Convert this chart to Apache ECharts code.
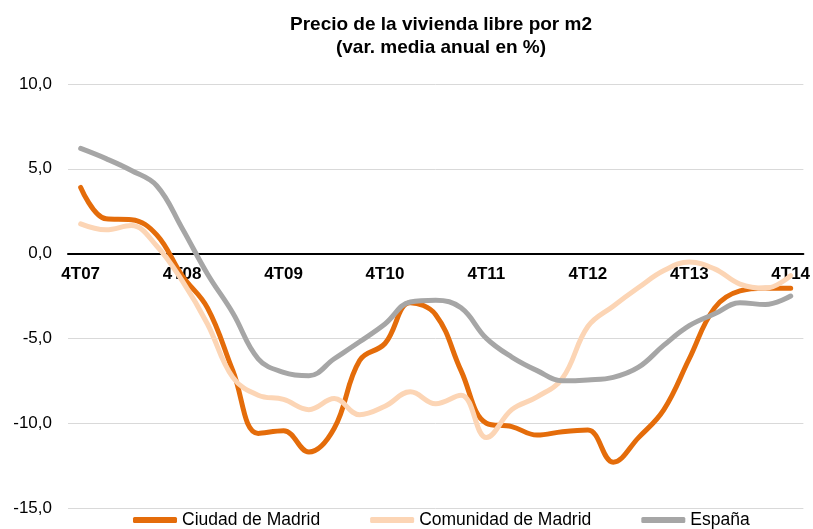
<!DOCTYPE html>
<html>
<head>
<meta charset="utf-8">
<title>Precio de la vivienda libre por m2</title>
<script src="https://cdn.jsdelivr.net/npm/echarts@6/dist/echarts.min.js"></script>
<style>
  html, body { margin: 0; padding: 0; background: #ffffff; }
  #chart { width: 813px; height: 529px; }
</style>
</head>
<body>
<div id="chart"></div>
<script>
// Trimestres (4T07 .. 4T14)
const categories = [
  '4T07', '1T08', '2T08', '3T08', '4T08', '1T09', '2T09', '3T09',
  '4T09', '1T10', '2T10', '3T10', '4T10', '1T11', '2T11', '3T11',
  '4T11', '1T12', '2T12', '3T12', '4T12', '1T13', '2T13', '3T13',
  '4T13', '1T14', '2T14', '3T14', '4T14'
];

// Variación media anual (%)
const ciudadMadrid = [
  3.9, 2.05, 2.0, 1.1, -1.3, -3.2, -6.9, -10.6,
  -10.45, -11.7, -10.3, -6.3, -5.3, -2.9, -3.6, -6.9,
  -10.0, -10.2, -10.7, -10.5, -10.4, -12.3, -10.85, -9.2,
  -6.2, -3.2, -2.2, -2.05, -2.05
];
const comunidadMadrid = [
  1.75, 1.4, 1.65, 0.45, -1.6, -4.15, -7.3, -8.35,
  -8.6, -9.2, -8.55, -9.5, -9.0, -8.15, -8.85, -8.35,
  -10.85, -9.2, -8.45, -7.35, -4.3, -3.1, -2.0, -1.0,
  -0.5, -0.9, -1.8, -2.05, -1.3
];
const espana = [
  6.2, 5.6, 4.9, 4.0, 1.5, -1.2, -3.5, -6.2,
  -7.0, -7.2, -6.2, -5.2, -4.15, -2.85, -2.75, -3.2,
  -5.0, -6.1, -6.9, -7.5, -7.45, -7.3, -6.7, -5.4,
  -4.25, -3.55, -2.9, -3.0, -2.5
];

// Eje de valores
const yMin = -15;
const yMax = 10;
const yStep = 5;

const seriesNames = ['Ciudad de Madrid', 'Comunidad de Madrid', 'España'];
const seriesColors = ['#E46C0A', '#FCD5B5', '#A6A6A6'];
const seriesData = [ciudadMadrid, comunidadMadrid, espana];

const FONT = '"Liberation Sans", Arial, Helvetica, sans-serif';

const W = 813, H = 529;
const gridLeft = 68, gridRight = 6, gridTop = 84, gridBottom = 21;
const gridHeight = H - gridTop - gridBottom;
// the category axis sits on the zero line, labels just under it
const zeroOffset = -gridHeight * (0 - yMin) / (yMax - yMin);

const chart = echarts.init(document.getElementById('chart'), null, { renderer: 'canvas' });

chart.setOption({
  animation: false,
  backgroundColor: '#ffffff',
  textStyle: { fontFamily: FONT },
  title: {
    text: 'Precio de la vivienda libre por m2\n(var. media anual en %)',
    left: 436,
    top: 8,
    textAlign: 'center',
    textStyle: {
      fontFamily: FONT,
      fontSize: 19,
      fontWeight: 'bold',
      color: '#000000',
      lineHeight: 23
    }
  },
  legend: {
    left: 128,
    top: 506,
    icon: 'roundRect',
    itemWidth: 44,
    itemHeight: 6,
    itemGap: 50,
    textStyle: { fontFamily: FONT, fontSize: 17.5, color: '#000000' },
    data: seriesNames
  },
  grid: {
    left: gridLeft,
    right: gridRight,
    top: gridTop,
    bottom: gridBottom,
    containLabel: false
  },
  xAxis: {
    type: 'category',
    data: categories,
    boundaryGap: true,
    position: 'bottom',
    offset: zeroOffset,
    axisLine: { onZero: false, lineStyle: { color: '#000000', width: 2 } },
    axisTick: { show: false },
    axisLabel: {
      interval: 3,
      margin: 12,
      fontFamily: FONT,
      fontSize: 17,
      fontWeight: 'bold',
      color: '#000000'
    },
    splitLine: { show: false }
  },
  yAxis: {
    type: 'value',
    min: yMin,
    max: yMax,
    interval: yStep,
    axisLine: { show: false },
    axisTick: { show: false },
    axisLabel: {
      margin: 16,
      fontFamily: FONT,
      fontSize: 17,
      color: '#000000',
      formatter: v => v.toFixed(1).replace('.', ',')
    },
    splitLine: { lineStyle: { color: '#D9D9D9', width: 1 } }
  },
  series: seriesNames.map((name, i) => ({
    name: name,
    type: 'line',
    data: seriesData[i],
    smooth: 0.4,
    showSymbol: false,
    symbol: 'none',
    color: seriesColors[i],
    lineStyle: { color: seriesColors[i], width: 5, cap: 'round', join: 'round' }
  }))
});
</script>
</body>
</html>
